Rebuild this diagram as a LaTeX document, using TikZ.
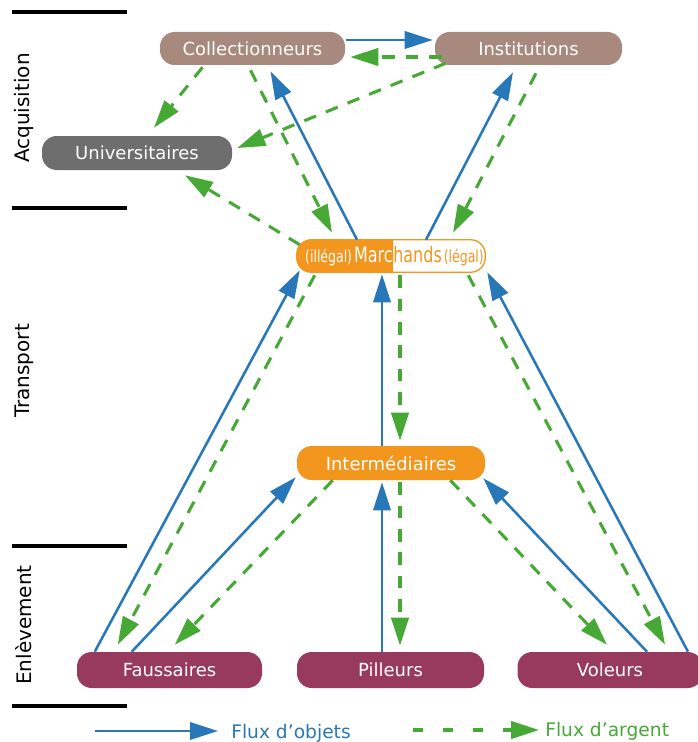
\documentclass[tikz,border=0pt]{standalone}
\usepackage{fontspec}
\setmainfont{DejaVu Sans}
\newfontfamily\condf[FakeStretch=0.75]{DejaVu Sans}
\usetikzlibrary{arrows.meta,calc}
\definecolor{cbrown}{HTML}{A8897D}
\definecolor{cgray}{HTML}{6E6E6E}
\definecolor{corange}{HTML}{F2961E}
\definecolor{cmaroon}{HTML}{983A5D}
\definecolor{cblue}{HTML}{2877B8}
\definecolor{cgreen}{HTML}{46A835}
\begin{document}
\begin{tikzpicture}[x=0.75pt,y=-0.75pt,
  box/.style={rectangle, rounded corners=11pt, inner sep=0pt, text=white,
    font=\fontsize{13.5}{16}\selectfont},
  obj/.style={draw=cblue, line width=1.9pt, -{Triangle[length=21pt,width=13pt]}},
  arg/.style={draw=cgreen, line width=2.3pt, dash pattern=on 9.5pt off 8pt,
    -{Triangle[length=21pt,width=13pt]}},
  sect/.style={draw=black, line width=2.3pt},
  lab/.style={rotate=90, font=\fontsize{15}{18}\selectfont, text=black}]
\useasboundingbox (0,0) rectangle (698,742);

% section separators
\coordinate (s1a) at (12,12);  \coordinate (s1b) at (127,12);
\coordinate (s2a) at (12,208); \coordinate (s2b) at (127,208);
\coordinate (s3a) at (12,546); \coordinate (s3b) at (127,546);
\coordinate (s4a) at (12,706); \coordinate (s4b) at (127,706);
\draw[sect] (s1a) -- (s1b);
\draw[sect] (s2a) -- (s2b);
\draw[sect] (s3a) -- (s3b);
\draw[sect] (s4a) -- (s4b);

\node[lab] (acq) at (24,108) {Acquisition};
\node[lab] (tra) at (24,371) {Transport};
\node[lab] (enl) at (24,625) {Enlèvement};

% nodes
\node[box, fill=cbrown, minimum width=138.75pt, minimum height=24.75pt] (col) at (252.5,48.5) {Collectionneurs};
\node[box, fill=cbrown, minimum width=140.25pt, minimum height=24.75pt] (ins) at (528.5,48.5) {Institutions};
\node[box, fill=cgray, minimum width=142.5pt, minimum height=25.5pt] (uni) at (137,153) {Universitaires};
\node[box, fill=corange, minimum width=141pt, minimum height=25.5pt] (int) at (391,463) {Intermédiaires};
\node[box, fill=cmaroon, minimum width=138.75pt, minimum height=27pt] (fau) at (169.5,670) {Faussaires};
\node[box, fill=cmaroon, minimum width=140.25pt, minimum height=27pt] (pil) at (390.5,670) {Pilleurs};
\node[box, fill=cmaroon, minimum width=138.75pt, minimum height=27pt] (vol) at (610,670) {Voleurs};

% Marchands: half filled
\node[box, fill=white, minimum width=141pt, minimum height=24pt] (mar) at (391,256) {};
\begin{scope}
  \clip (280,230) rectangle (393,290);
  \fill[corange, rounded corners=11pt] (mar.south west) rectangle (mar.north east);
\end{scope}
\draw[corange, line width=1pt, rounded corners=11pt] (mar.south west) rectangle (mar.north east);
\node[anchor=base east, inner sep=0pt, text=white, font=\condf\fontsize{16}{18}\selectfont] (marl) at (393,262)
  {{\fontsize{12.5}{13}\selectfont(illégal)}\hspace{1.5pt}Marc};
\node[anchor=base west, inner sep=0pt, text=corange, font=\condf\fontsize{16}{18}\selectfont] (marr) at (393,262)
  {hands\hspace{1.5pt}{\fontsize{12.5}{13}\selectfont(légal)}};

% connectors - acquisition
\draw[obj] ($(col.east)+(1,-8.5)$) -- ($(ins.west)+(-2,-8.5)$);
\draw[arg] ($(ins.west)+(7,8.5)$) -- ($(col.east)+(5,8.5)$);
\draw[arg] ($(col.south)+(-50,2)$) -- ($(uni.north)+(17,-8)$);
\draw[arg] ($(ins.south west)+(11,-2)$) -- ($(uni.east)+(5,-5)$);
\draw[arg] ($(mar.north west)+(3,5)$) -- ($(uni.south)+(48,5)$);
\draw[arg] ($(col.south)+(-2,5)$) -- ($(mar.north)+(-59,-7)$);
\draw[obj] ($(mar.north)+(-34,0)$) -- ($(col.south)+(18,6)$);
\draw[obj] ($(mar.north)+(35,0)$) -- ($(ins.south)+(-15.5,7)$);
\draw[arg] ($(ins.south)+(7.5,8)$) -- ($(mar.north)+(62,-7)$);

% connectors - transport / enlevement
\draw[obj] ($(fau.north west)+(18,0)$) -- ($(mar.south west)+(3,-2)$);
\draw[arg] ($(mar.south west)+(18,3)$) -- ($(fau.north west)+(41,-7)$);
\draw[obj] ($(fau.north west)+(55,0)$) -- ($(int.south west)+(-1,-3)$);
\draw[arg] ($(int.south west)+(36,0)$) -- ($(fau.north west)+(98,-7)$);
\draw[obj] ($(pil.north)+(-8.5,0)$) -- ($(int.south)+(-9,2)$);
\draw[arg] ($(int.south)+(9,2)$) -- ($(pil.north)+(9.5,-6)$);
\draw[obj] ($(int.north)+(-9,0)$) -- ($(mar.south)+(-9,2)$);
\draw[arg] ($(mar.south)+(9,3)$) -- ($(int.north)+(9,-5)$);
\draw[obj] ($(vol.north)+(37,0)$) -- ($(int.south east)+(-2,-2)$);
\draw[arg] ($(int.south east)+(-35,0)$) -- ($(vol.north)+(-3,-7)$);
\draw[obj] ($(vol.north)+(78,0)$) -- ($(mar.south east)+(2,0)$);
\draw[arg] ($(mar.south east)+(-17,3)$) -- ($(vol.north)+(55,-7)$);

% legend
\coordinate (lb1) at (95,731);  \coordinate (lb2) at (218,731);
\coordinate (lg1) at (413,730); \coordinate (lg2) at (539,730);
\draw[obj] (lb1) -- (lb2);
\draw[arg, dash pattern=on 7.5pt off 15pt] (lg1) -- (lg2);
\node[anchor=west, inner sep=0pt, text=cblue, font=\fontsize{14}{15}\selectfont] (lo) at (231,733) {Flux d’objets};
\node[anchor=west, inner sep=0pt, text=cgreen, font=\fontsize{14}{15}\selectfont] (la) at (545,731) {Flux d’argent};
\end{tikzpicture}
\end{document}
